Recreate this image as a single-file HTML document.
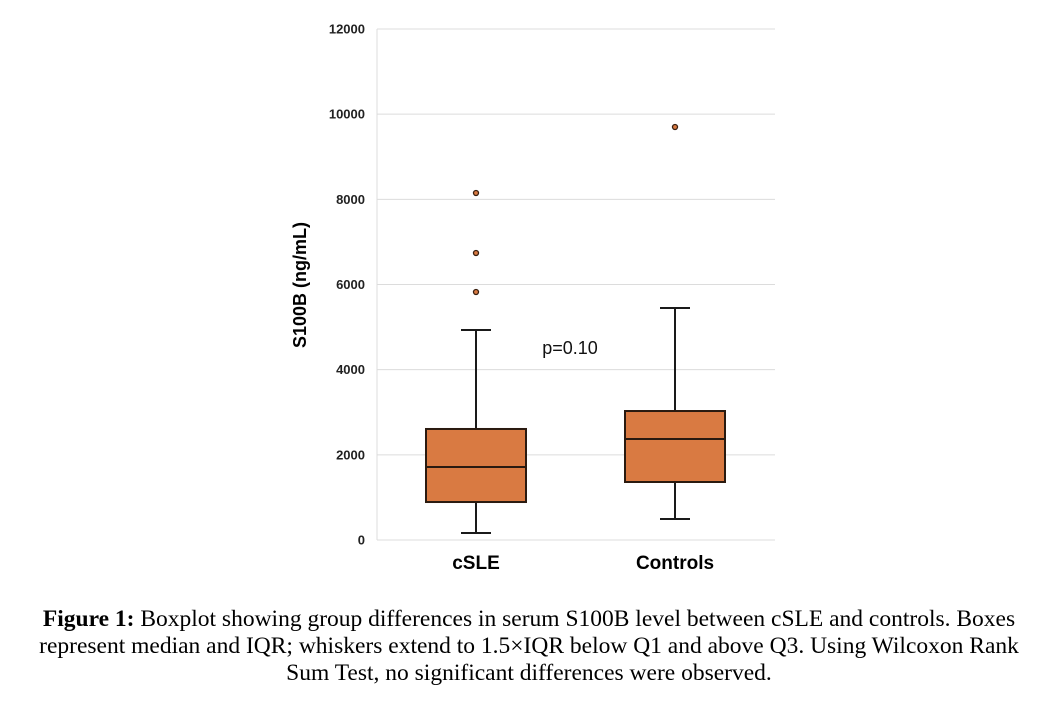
<!DOCTYPE html>
<html><head><meta charset="utf-8">
<style>
body{margin:0;background:#fff;width:1058px;height:712px;overflow:hidden}
svg{display:block}
.cap{position:absolute;left:0;top:606px;width:1058px;text-align:center;font-family:"Liberation Serif",serif;font-size:23.5px;line-height:27px;color:#000;white-space:nowrap}
</style></head>
<body>
<svg id="chart" width="1058" height="600" style="position:absolute;left:0;top:0"></svg>
<div class="cap"><b>Figure 1:</b> Boxplot showing group differences in serum S100B level between cSLE and controls. Boxes<br>represent median and IQR; whiskers extend to 1.5×IQR below Q1 and above Q3. Using Wilcoxon Rank<br>Sum Test, no significant differences were observed.</div>
<script>
const categories=["cSLE","Controls"];
const q1=[892,1362];
const medians=[1714,2372];
const q3=[2607,3029];
const whiskLow=[164,493];
const whiskHigh=[4931,5448];
const outliers=[[8148,6739,5823],[9698]];
const yTicks=[0,2000,4000,6000,8000,10000,12000];
const NS="http://www.w3.org/2000/svg";
const svg=document.getElementById('chart');
const x0=377,x1=775,yTop=29,yBot=540,yMax=12000;
const y=v=>yBot-(v/yMax)*(yBot-yTop);
const xc=i=>476+i*199;
function mk(t,a,txt){const e=document.createElementNS(NS,t);for(const k in a)e.setAttribute(k,a[k]);if(txt!==undefined)e.textContent=txt;svg.appendChild(e);return e;}
yTicks.forEach(t=>{
 const g=mk('line',{x1:x0,x2:x1,y1:y(t),y2:y(t),stroke:'#dcdcdc','stroke-width':1});
 
 
 const l=mk('text',{x:365,y:y(t)+4.5,'text-anchor':'end','font-family':'Liberation Sans, sans-serif','font-size':13,'font-weight':'bold',fill:'#222'},t);
 
 
});
const ax=mk('line',{x1:x0,x2:x0,y1:yTop,y2:yBot,stroke:'#dcdcdc'});


const yt=mk('text',{transform:'translate(306,285) rotate(-90)','text-anchor':'middle','font-family':'Liberation Sans, sans-serif','font-size':18,'font-weight':'bold'},'S100B (ng/mL)');


categories.forEach((c,i)=>{
 const cx=xc(i);
 const w=mk('line',{x1:cx,x2:cx,y1:y(whiskLow[i]),y2:y(whiskHigh[i]),stroke:'#1a1a1a','stroke-width':2});
 
 
 [whiskLow[i],whiskHigh[i]].forEach(v=>{
  const cp=mk('line',{x1:cx-15,x2:cx+15,y1:y(v),y2:y(v),stroke:'#1a1a1a','stroke-width':2});
  
  
 });
 const b=mk('rect',{x:cx-50,y:y(q3[i]),width:100,height:y(q1[i])-y(q3[i]),fill:'#d97a42',stroke:'#2a1a10','stroke-width':2});
 
 
 const m=mk('line',{x1:cx-50,x2:cx+50,y1:y(medians[i]),y2:y(medians[i]),stroke:'#2a1a10','stroke-width':2});
 
 
 outliers[i].forEach(v=>{
  const o=mk('circle',{cx:cx,cy:y(v),r:2.5,fill:'#d97a42',stroke:'#3a2010','stroke-width':1.3});
  
  
 });
 const l=mk('text',{x:cx,y:569,'text-anchor':'middle','font-family':'Liberation Sans, sans-serif','font-size':19,'font-weight':'bold'},c);
 
 
});
const p=mk('text',{x:570,y:354,'text-anchor':'middle','font-family':'Liberation Sans, sans-serif','font-size':18,fill:'#111'},'p=0.10');


</script>
</body></html>
